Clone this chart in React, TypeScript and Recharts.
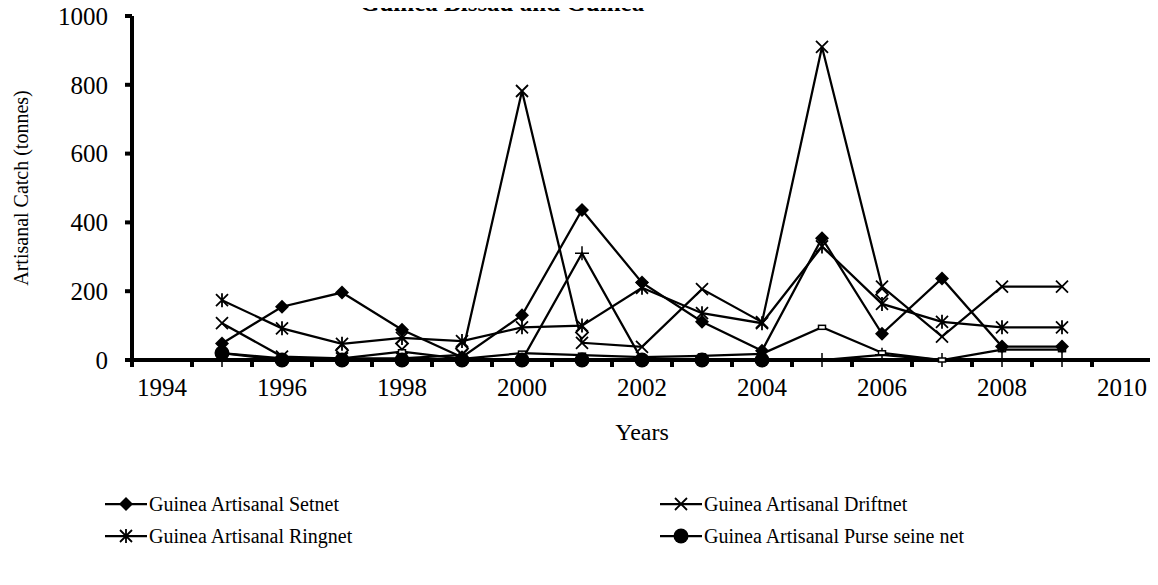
import React from "react";
import { LineChart, Line, XAxis, YAxis, Legend } from "recharts";

const years = [1995, 1996, 1997, 1998, 1999, 2000, 2001, 2002, 2003, 2004, 2005, 2006, 2007, 2008, 2009];

// Guinea series (in legend)
const setnet = [48, 155, 196, 88, 8, 130, 436, 225, 111, 27, 354, 76, 237, 39, 39];
const driftnet = [107, 10, 5, 5, 15, 782, 50, 38, 206, 110, 910, 213, 68, 213, 213];
const ringnet = [174, 92, 47, 64, 55, 95, 100, 210, 136, 107, 330, 163, 111, 95, 95];
const purseSeine = [20, 0, 0, 0, 0, 0, 0, 0, 0, 0, null, null, null, null, null];

// Guinea Bissau series (legend entries cut off in the source)
const bissauPlus = [0, 0, 0, 0, 0, 0, 310, 0, 0, 0, 0, 15, 0, 0, 0];
const bissauOpen = [null, null, 28, 48, 34, null, 80, null, null, null, null, 190, null, null, null];
const bissauSquare = [20, 5, 5, 24, 3, 20, 14, 8, 12, 18, 95, 21, 0, 30, 30];

const yTicks = [0, 200, 400, 600, 800, 1000];
const yearLabels = [1994, 1996, 1998, 2000, 2002, 2004, 2006, 2008, 2010];
const tickMarks = [1993.5, 1994.5, 1995.5, 1996.5, 1997.5, 1998.5, 1999.5, 2000.5, 2001.5, 2002.5, 2003.5, 2004.5, 2005.5, 2006.5, 2007.5, 2008.5, 2009.5, 2010.5];

const data = years.map((year, i) => ({
  year,
  setnet: setnet[i],
  driftnet: driftnet[i],
  ringnet: ringnet[i],
  purse: purseSeine[i],
  plus: bissauPlus[i],
  open: bissauOpen[i],
  square: bissauSquare[i],
}));

const FONT = "'Liberation Serif', 'Times New Roman', serif";

type Kind = "diamond" | "x" | "star" | "circle" | "plus" | "open" | "square";

function Marker({ kind, cx, cy }: { kind: Kind; cx: number; cy: number }) {
  switch (kind) {
    case "diamond":
      return <path d={`M${cx},${cy - 7}L${cx + 7},${cy}L${cx},${cy + 7}L${cx - 7},${cy}Z`} fill="#000" />;
    case "x":
      return (
        <path
          d={`M${cx - 6},${cy - 6}L${cx + 6},${cy + 6}M${cx + 6},${cy - 6}L${cx - 6},${cy + 6}`}
          stroke="#000"
          strokeWidth={1.8}
        />
      );
    case "star":
      return (
        <path
          d={`M${cx - 6},${cy - 6}L${cx + 6},${cy + 6}M${cx + 6},${cy - 6}L${cx - 6},${cy + 6}M${cx},${cy - 7}L${cx},${cy + 7}`}
          stroke="#000"
          strokeWidth={1.8}
        />
      );
    case "circle":
      return <circle cx={cx} cy={cy} r={7.5} fill="#000" />;
    case "plus":
      return <path d={`M${cx - 7},${cy}L${cx + 7},${cy}M${cx},${cy - 7}L${cx},${cy + 7}`} stroke="#000" strokeWidth={1.5} />;
    case "open":
      return (
        <path
          d={`M${cx},${cy - 6}L${cx + 6},${cy}L${cx},${cy + 6}L${cx - 6},${cy}Z`}
          fill="#fff"
          stroke="#000"
          strokeWidth={1.8}
        />
      );
    case "square":
      return <rect x={cx - 3.5} y={cy - 2} width={7} height={4} fill="#fff" stroke="#000" strokeWidth={1.5} />;
  }
  return null;
}

const dotFor = (kind: Kind) => (p: any) => {
  if (p.cx == null || p.cy == null || p.value == null) return <g key={`${kind}-${p.index}`} />;
  return (
    <g key={`${kind}-${p.index}`}>
      <Marker kind={kind} cx={p.cx} cy={p.cy} />
    </g>
  );
};

function YearTick({ x, y, payload }: any) {
  const v = payload.value;
  if (yearLabels.includes(v)) {
    return (
      <text x={x} y={y + 36} textAnchor="middle" fontSize={25} fontFamily={FONT} fill="#000">
        {v}
      </text>
    );
  }
  if (tickMarks.includes(v)) {
    return <rect x={x - 2} y={y} width={4} height={7} fill="#000" />;
  }
  return <g />;
}

const legendItems: { name: string; kind: Kind }[] = [
  { name: "Guinea Artisanal Setnet", kind: "diamond" },
  { name: "Guinea Artisanal Driftnet", kind: "x" },
  { name: "Guinea Artisanal Ringnet", kind: "star" },
  { name: "Guinea Artisanal Purse seine net", kind: "circle" },
];

function LegendContent() {
  return (
    <div style={{ display: "grid", gridTemplateColumns: "555px 400px", rowGap: 4 }}>
      {legendItems.map((it) => (
        <div key={it.name} style={{ display: "flex", alignItems: "center", height: 28 }}>
          <svg width={42} height={20} style={{ marginRight: 2 }}>
            <line x1={0} y1={10} x2={42} y2={10} stroke="#000" strokeWidth={2.25} />
            <Marker kind={it.kind} cx={21} cy={10} />
          </svg>
          <span style={{ fontFamily: FONT, fontSize: 20, color: "#000", whiteSpace: "nowrap" }}>{it.name}</span>
        </div>
      ))}
    </div>
  );
}

export default function App() {
  return (
    <div style={{ position: "relative", margin: -8, width: 1158, height: 585, background: "#fff", overflow: "hidden" }}>
      <LineChart width={1158} height={585} data={data} margin={{ top: 16, right: 6, left: 0, bottom: 140 }}>
        <XAxis
          dataKey="year"
          type="number"
          domain={[1993.5, 2010.5]}
          ticks={[...tickMarks, ...years, 2010, 1994].sort((a, b) => a - b)}
          interval={0}
          height={85}
          tickSize={0}
          tickMargin={0}
          tickLine={false}
          axisLine={{ stroke: "#000", strokeWidth: 4 }}
          tick={<YearTick />}
          label={{
            content: ({ viewBox }: any) => (
              <text
                x={viewBox.x + viewBox.width / 2}
                y={viewBox.y + 80}
                textAnchor="middle"
                fontSize={24}
                fontFamily={FONT}
                fill="#000"
              >
                Years
              </text>
            ),
          }}
        />
        <YAxis
          width={132}
          domain={[0, 1000]}
          ticks={yTicks}
          interval={0}
          tickSize={7}
          tickMargin={17}
          axisLine={{ stroke: "#000", strokeWidth: 4 }}
          tickLine={{ stroke: "#000", strokeWidth: 4 }}
          tick={{ fontSize: 25, fontFamily: FONT, fill: "#000" }}
          label={{
            content: ({ viewBox }: any) => {
              const lx = viewBox.x + 21;
              const ly = viewBox.y + viewBox.height / 2;
              return (
                <text
                  x={lx}
                  y={ly}
                  transform={`rotate(-90 ${lx} ${ly})`}
                  textAnchor="middle"
                  dominantBaseline="central"
                  fontSize={20}
                  fontFamily={FONT}
                  fill="#000"
                >
                  Artisanal Catch (tonnes)
                </text>
              );
            },
          }}
        />
        <Line dataKey="plus" name="Guinea Bissau Artisanal Setnet" stroke="#000" strokeWidth={2.25} dot={dotFor("plus")} isAnimationActive={false} />
        <Line dataKey="square" name="Guinea Bissau Artisanal Driftnet" stroke="#000" strokeWidth={2.25} dot={dotFor("square")} isAnimationActive={false} />
        <Line dataKey="open" name="Guinea Bissau Artisanal Ringnet" stroke="none" dot={dotFor("open")} isAnimationActive={false} />
        <Line dataKey="purse" name="Guinea Artisanal Purse seine net" stroke="#000" strokeWidth={2.25} dot={dotFor("circle")} isAnimationActive={false} />
        <Line dataKey="ringnet" name="Guinea Artisanal Ringnet" stroke="#000" strokeWidth={2.25} dot={dotFor("star")} isAnimationActive={false} />
        <Line dataKey="driftnet" name="Guinea Artisanal Driftnet" stroke="#000" strokeWidth={2.25} dot={dotFor("x")} isAnimationActive={false} />
        <Line dataKey="setnet" name="Guinea Artisanal Setnet" stroke="#000" strokeWidth={2.25} dot={dotFor("diamond")} isAnimationActive={false} />
        <Legend
          layout="horizontal"
          verticalAlign="middle"
          align="center"
          wrapperStyle={{ left: 105, top: 490, width: 1000 }}
          content={() => <LegendContent />}
        />
      </LineChart>
      <div
        style={{
          position: "absolute",
          left: 360,
          top: -10,
          fontFamily: FONT,
          fontWeight: "bold",
          fontSize: 25,
          lineHeight: "25px",
          whiteSpace: "nowrap",
          pointerEvents: "none",
        }}
      >
        Guinea Bissau and  Guinea
      </div>
    </div>
  );
}
